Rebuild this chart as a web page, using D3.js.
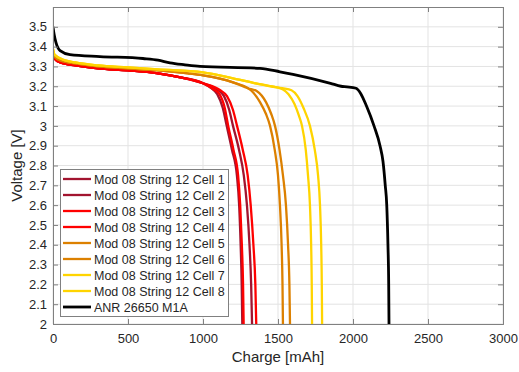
<!DOCTYPE html>
<html>
<head>
<meta charset="utf-8">
<script src="https://cdn.jsdelivr.net/npm/d3@7"></script>
<style>
  body { margin: 0; background: #fff; }
  text { font-family: "Liberation Sans", Arial, sans-serif; fill: #262626; }
</style>
</head>
<body>
<svg id="chart" width="519" height="372"></svg>
<script>
// discharge curves, [charge mAh, voltage V]
const cell1 = [[0,3.37],[10,3.34],[50,3.32],[150,3.305],[300,3.29],[500,3.28],[700,3.265],[850,3.245],[1000,3.215],
  [1055,3.19],[1095,3.16],[1132,3.09],[1158,3.0],[1193,2.88],[1226,2.75],[1241,2.6],[1251,2.4],[1258,2.2],[1262,2.0]];
const cell2 = [[0,3.37],[10,3.34],[50,3.32],[150,3.305],[300,3.29],[500,3.28],[700,3.265],[850,3.245],[1000,3.215],
  [1100,3.18],[1140,3.15],[1175,3.08],[1200,3.0],[1240,2.88],[1272,2.75],[1293,2.6],[1310,2.4],[1321,2.2],[1327,2.0]];
const cell3 = [[0,3.37],[10,3.34],[50,3.32],[150,3.305],[300,3.29],[500,3.28],[700,3.265],[850,3.245],[1000,3.215],
  [1070,3.185],[1110,3.16],[1145,3.09],[1168,3.0],[1203,2.88],[1234,2.75],[1248,2.6],[1259,2.4],[1267,2.2],[1271,2.0]];
const cell4 = [[0,3.37],[10,3.34],[50,3.32],[150,3.305],[300,3.29],[500,3.28],[700,3.265],[850,3.245],[1000,3.215],
  [1115,3.18],[1160,3.15],[1200,3.08],[1227,3.0],[1265,2.88],[1298,2.75],[1318,2.6],[1336,2.4],[1349,2.2],[1355,2.0]];
const cell5 = [[0,3.38],[10,3.35],[50,3.33],[150,3.315],[300,3.30],[500,3.29],[700,3.28],[900,3.265],[1000,3.255],[1200,3.22],[1300,3.19],
  [1333,3.17],[1380,3.12],[1420,3.06],[1447,3.0],[1478,2.88],[1500,2.75],[1513,2.6],[1524,2.4],[1530,2.2],[1533,2.0]];
const cell6 = [[0,3.38],[10,3.35],[50,3.33],[150,3.315],[300,3.30],[500,3.29],[700,3.28],[900,3.265],[1000,3.255],[1200,3.22],[1300,3.19],
  [1360,3.175],[1420,3.12],[1455,3.06],[1480,3.0],[1510,2.88],[1533,2.75],[1553,2.6],[1567,2.4],[1576,2.2],[1580,2.0]];
const cell7 = [[0,3.39],[10,3.36],[50,3.34],[150,3.32],[300,3.305],[500,3.295],[700,3.285],[1000,3.27],[1200,3.24],[1350,3.215],[1450,3.2],[1530,3.185],
  [1570,3.16],[1610,3.11],[1640,3.05],[1660,3.0],[1685,2.88],[1700,2.75],[1713,2.6],[1721,2.4],[1725,2.2],[1727,2.0]];
const cell8 = [[0,3.39],[10,3.36],[50,3.34],[150,3.32],[300,3.305],[500,3.295],[700,3.285],[1000,3.27],[1200,3.24],[1350,3.215],[1450,3.2],[1530,3.19],
  [1590,3.18],[1630,3.15],[1670,3.09],[1713,3.0],[1745,2.88],[1767,2.75],[1780,2.6],[1788,2.4],[1792,2.2],[1794,2.0]];
const anr = [[0,3.5],[8,3.46],[20,3.42],[47,3.38],[113,3.36],[313,3.35],[600,3.34],[700,3.332],[780,3.318],[880,3.308],[980,3.30],
  [1380,3.29],[1513,3.273],[1600,3.26],[1850,3.215],[1920,3.20],[1960,3.197],[2020,3.19],[2050,3.165],[2090,3.1],[2140,3.0],
  [2180,2.9],[2200,2.82],[2215,2.7],[2225,2.6],[2233,2.4],[2238,2.2],[2240,2.0]];

const names = ['Mod 08 String 12 Cell 1','Mod 08 String 12 Cell 2','Mod 08 String 12 Cell 3','Mod 08 String 12 Cell 4',
  'Mod 08 String 12 Cell 5','Mod 08 String 12 Cell 6','Mod 08 String 12 Cell 7','Mod 08 String 12 Cell 8','ANR 26650 M1A'];
const colours = ['#A2142F','#A2142F','#FF0000','#FF0000','#DC8000','#DC8000','#FFD400','#FFD400','#000000'];
const curves = [cell1, cell2, cell3, cell4, cell5, cell6, cell7, cell8, anr];

const xTicks = [0, 500, 1000, 1500, 2000, 2500, 3000];
const yTicks = d3.range(20, 36).map(d => d / 10);

const margin = { left: 53, right: 16, top: 7, bottom: 48 };
const width = 519, height = 372;

const svg = d3.select('#chart');

const x = d3.scaleLinear().domain([0, 3000]).range([margin.left, width - margin.right]);
const y = d3.scaleLinear().domain([2, 3.6]).range([height - margin.bottom, margin.top]);

// grid
svg.append('g').selectAll('line').data(xTicks).join('line')
    .attr('x1', d => x(d)).attr('x2', d => x(d))
    .attr('y1', y(2)).attr('y2', y(3.6))
    .attr('stroke', '#e3e3e3').attr('stroke-width', 1);
svg.append('g').selectAll('line').data(yTicks).join('line')
    .attr('x1', x(0)).attr('x2', x(3000))
    .attr('y1', d => y(d)).attr('y2', d => y(d))
    .attr('stroke', '#e3e3e3').attr('stroke-width', 1);

// curves
svg.append('clipPath').attr('id', 'clip')
  .append('rect')
    .attr('x', x(0)).attr('y', y(3.6))
    .attr('width', x(3000) - x(0)).attr('height', y(2) - y(3.6));

const line = d3.line()
    .x(d => x(d[0]))
    .y(d => y(d[1]))
    .curve(d3.curveMonotoneX);

svg.append('g').attr('clip-path', 'url(#clip)')
  .selectAll('path').data(curves).join('path')
    .attr('d', line)
    .attr('fill', 'none')
    .attr('stroke', (d, i) => colours[i])
    .attr('stroke-width', (d, i) => i === 8 ? 2.8 : 2.3)
    .attr('stroke-linejoin', 'round');

// axes (ticks pointing inward, box all round)
svg.append('g')
    .attr('transform', `translate(0,${y(2)})`)
    .call(d3.axisBottom(x).tickValues(xTicks).tickSize(-5).tickPadding(10).tickFormat(d3.format('d')));
svg.append('g')
    .attr('transform', `translate(${x(0)},0)`)
    .call(d3.axisLeft(y).tickValues(yTicks).tickSize(-5).tickPadding(6).tickFormat(d => d3.format('')(d)));
svg.append('g')
    .attr('transform', `translate(0,${y(3.6)})`)
    .call(d3.axisTop(x).tickValues(xTicks).tickSize(-5).tickFormat(''));
svg.append('g')
    .attr('transform', `translate(${x(3000)},0)`)
    .call(d3.axisRight(y).tickValues(yTicks).tickSize(-5).tickFormat(''));

svg.selectAll('.domain').attr('stroke', '#808080');
svg.selectAll('.tick line').attr('stroke', '#808080');
svg.selectAll('.tick text').attr('font-size', 13).attr('fill', '#262626')
    .style('font-family', '"Liberation Sans", Arial, sans-serif');

svg.append('text')
    .attr('x', (x(0) + x(3000)) / 2).attr('y', 362)
    .attr('text-anchor', 'middle').attr('font-size', 15)
    .text('Charge [mAh]');
svg.append('text')
    .attr('transform', `translate(22,${(y(2) + y(3.6)) / 2}) rotate(-90)`)
    .attr('text-anchor', 'middle').attr('font-size', 15)
    .text('Voltage [V]');

// legend
const legend = svg.append('g');
legend.append('rect')
    .attr('x', 60.5).attr('y', 169.5).attr('width', 168).attr('height', 147)
    .attr('fill', '#fff').attr('stroke', '#808080');
const item = legend.selectAll('g.item').data(names).join('g')
    .attr('class', 'item')
    .attr('transform', (d, i) => `translate(0,${179 + i * 16})`);
item.append('line')
    .attr('x1', 63).attr('x2', 91)
    .attr('stroke', (d, i) => colours[i])
    .attr('stroke-width', (d, i) => i === 8 ? 2.8 : 2.3);
item.append('text')
    .attr('x', 94).attr('y', 4.5)
    .attr('font-size', 12.5)
    .text(d => d);
</script>
</body>
</html>
